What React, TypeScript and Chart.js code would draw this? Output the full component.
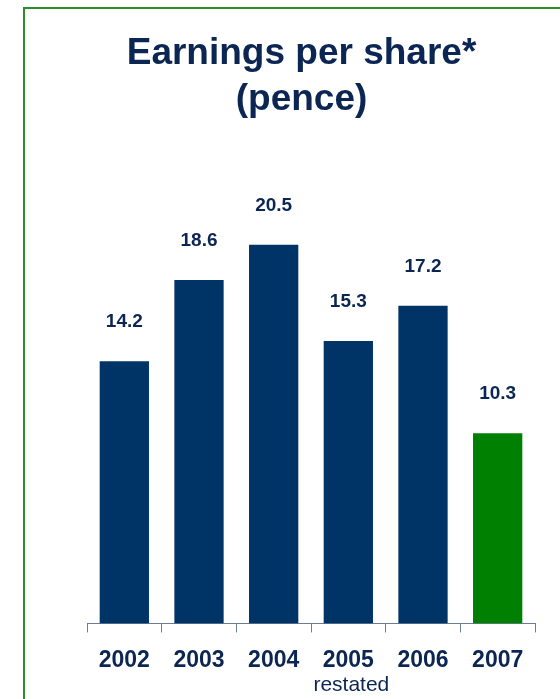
import React, { useEffect, useRef } from "react";
import { Chart, registerables } from "chart.js";

Chart.register(...registerables);

const categories = ["2002", "2003", "2004", "2005", "2006", "2007"];
const tickNotes = ["", "", "", "restated", "", ""];
const epsValues = [14.2, 18.6, 20.5, 15.3, 17.2, 10.3];
const barColors = ["#003366", "#003366", "#003366", "#003366", "#003366", "#008000"];
const titleLines = ["Earnings per share*", "(pence)"];

const TEXT = "#0c2653";
const FONT = "Arial, 'Liberation Sans', Helvetica, sans-serif";

const framePlugin = {
  id: "frame",
  beforeDraw(chart: any) {
    const ctx = chart.ctx;
    ctx.save();
    ctx.strokeStyle = "#2a8f2a";
    ctx.lineWidth = 2;
    ctx.strokeRect(24, 8, 700, 900);
    ctx.restore();
  },
};

const labelPlugin = {
  id: "valueLabels",
  afterDatasetsDraw(chart: any) {
    const ctx = chart.ctx;
    const meta = chart.getDatasetMeta(0);
    ctx.save();
    ctx.fillStyle = TEXT;
    ctx.font = `bold 19px ${FONT}`;
    ctx.textAlign = "center";
    ctx.textBaseline = "middle";
    meta.data.forEach((bar: any, i: number) => {
      ctx.fillText(epsValues[i].toFixed(1), bar.x, bar.y - 39);
    });
    const xScale = chart.scales.x;
    ctx.font = `21px ${FONT}`;
    tickNotes.forEach((note, i) => {
      if (!note) return;
      ctx.fillText(note, xScale.getPixelForTick(i) + 3, 685);
    });
    ctx.restore();
  },
};

export default function App() {
  const ref = useRef<HTMLCanvasElement | null>(null);
  useEffect(() => {
    if (!ref.current) return;
    const chart = new Chart(ref.current, {
      type: "bar",
      data: {
        labels: categories,
        datasets: [
          {
            data: epsValues,
            backgroundColor: barColors,
            borderWidth: 0,
            categoryPercentage: 1,
            barPercentage: 0.66,
          },
        ],
      },
      options: {
        responsive: false,
        animation: false,
        layout: { padding: { left: 68, right: 25, top: 0, bottom: 11 } },
        plugins: {
          legend: { display: false },
          tooltip: { enabled: false },
          title: {
            display: true,
            text: titleLines,
            color: TEXT,
            font: { family: FONT, size: 37, weight: "bold", lineHeight: 1.24 },
            padding: { top: 31, bottom: 39 },
          },
        },
        scales: {
          x: {
            grid: {
              display: true,
              offset: true,
              drawOnChartArea: false,
              drawTicks: true,
              tickLength: 9,
              color: "#6b7b98",
              lineWidth: 1,
            },
            border: { display: true, color: "#6b7b98", width: 1 },
            ticks: {
              color: TEXT,
              font: { family: FONT, size: 23, weight: "bold" },
              padding: 14,
              maxRotation: 0,
              autoSkip: false,
            },
          },
          y: {
            display: true,
            min: 0,
            max: 25,
            grid: { display: false },
            border: { display: false },
            ticks: { display: false },
            afterFit: (scale: any) => {
              scale.width = 19;
            },
          },
        },
      },
      plugins: [framePlugin, labelPlugin],
    });
    return () => chart.destroy();
  }, []);
  return (
    <div style={{ position: "fixed", left: 0, top: 0, width: 560, height: 699, background: "#fff" }}>
      <canvas ref={ref} width={560} height={699} />
    </div>
  );
}
